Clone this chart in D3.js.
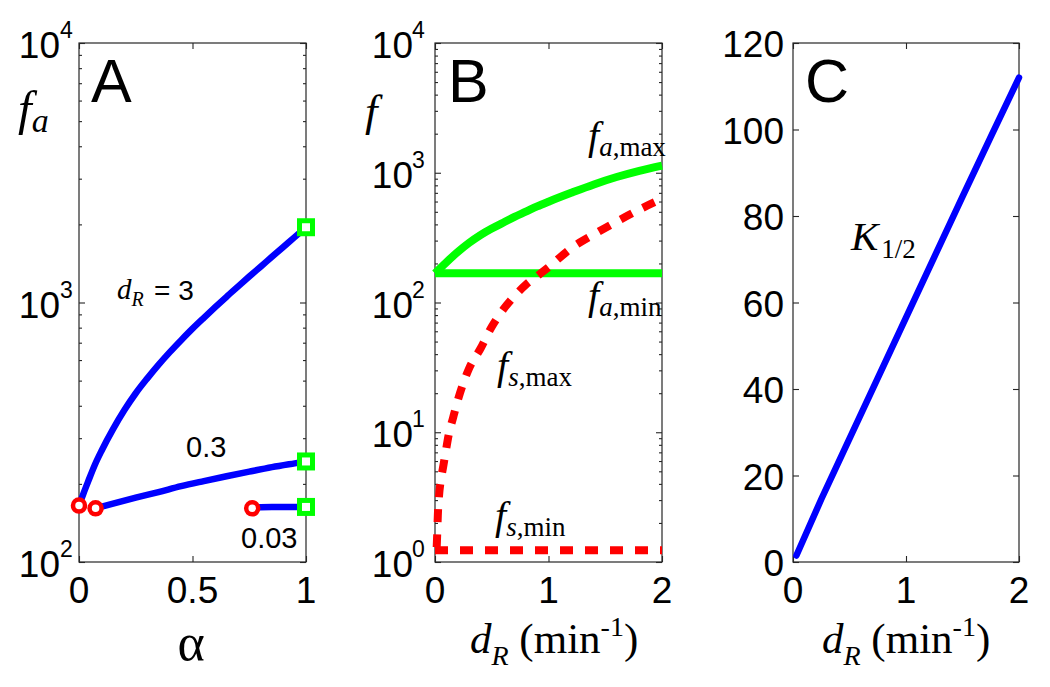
<!DOCTYPE html>
<html><head><meta charset="utf-8">
<script src="https://cdn.jsdelivr.net/npm/d3@7"></script>
<style>body{margin:0;background:#fff}</style>
</head><body><svg id="c" width="1050" height="687" style="background:#fff"></svg>
<script>
// ---------- Panel A data (alpha vs f_a, log axis) ----------
const aAlphaDR3 = [0, 0.02, 0.04, 0.07, 0.1, 0.15, 0.2, 0.25, 0.3, 0.35, 0.4, 0.45, 0.5, 0.55, 0.6, 0.65, 0.7, 0.75, 0.8, 0.85, 0.9, 0.95, 1.0];
const aFaDR3    = [165, 184, 204, 237, 269, 325, 385, 447, 509, 575, 644, 716, 793, 873, 959, 1052, 1151, 1259, 1374, 1500, 1637, 1786, 1950];
const aAlphaDR03 = [0.073, 0.15, 0.25, 0.35, 0.45, 0.55, 0.65, 0.75, 0.85, 0.95, 1.0];
const aFaDR03    = [161, 168, 177, 186, 196, 205, 214, 223, 232, 240, 244];
const aAlphaDR003 = [0.763, 0.8, 0.85, 0.9, 0.95, 1.0];
const aFaDR003    = [161, 162.5, 163, 163, 163, 163];
const aStartAlpha = [0, 0.073, 0.763];      // red circles
const aStartFa    = [165, 161, 161];
const aEndAlpha   = [1, 1, 1];              // green squares
const aEndFa      = [1950, 244, 163];
const aXTicks = [0, 0.5, 1];
const aYExp   = [2, 3, 4];

// ---------- Panel B data (d_R vs f, log axis) ----------
const bDRfaMax = [0, 0.1, 0.2, 0.3, 0.4, 0.5, 0.6, 0.7, 0.8, 0.9, 1.0, 1.2, 1.4, 1.6, 1.8, 2.0];
const bFaMax   = [168, 204, 245, 288, 331, 372, 412, 457, 501, 550, 598, 700, 813, 927, 1035, 1135];
const bDRfaMin = [0, 0.5, 1.0, 1.5, 2.0];
const bFaMin   = [168, 168, 168, 168, 168];
const bDRfsMax = [0.015, 0.02, 0.025, 0.035, 0.05, 0.07, 0.09, 0.12, 0.16, 0.2, 0.25, 0.3, 0.4, 0.5, 0.6, 0.7, 0.8, 0.9, 1.0, 1.2, 1.4, 1.6, 1.8, 2.0];
const bFsMax   = [1.3, 1.7, 2.3, 3.2, 4.2, 5.3, 6.7, 9.5, 13, 17.5, 24, 31, 44, 65, 88, 112, 137, 160, 187, 262, 335, 420, 520, 630];
const bDRfsMin = [0, 0.5, 1.0, 1.5, 2.0];
const bFsMin   = [1.23, 1.23, 1.23, 1.23, 1.23];
const bXTicks = [0, 1, 2];
const bYExp   = [0, 1, 2, 3, 4];

// ---------- Panel C data (d_R vs K_1/2) ----------
const cDR  = [0.03, 0.25, 0.5, 0.75, 1.0, 1.25, 1.5, 1.75, 2.0];
const cK   = [1.5, 14.5, 28.5, 42.5, 56.5, 70.5, 84.5, 98.3, 112];
const cXTicks = [0, 1, 2];
const cYTicks = [0, 20, 40, 60, 80, 100, 120];

const SANS = "'Liberation Sans', Arial, sans-serif";
const SERIF = "'Liberation Serif', 'Times New Roman', serif";
const BLUE = "#0000ff", GREEN = "#00ff00", RED = "#ff0000", AX = "#262626";

const svg = d3.select("#c");
const zip = (a, b) => a.map((v, i) => [v, b[i]]);

// scales
const xA = d3.scaleLinear([0, 1], [79, 306]);
const yA = d3.scaleLog([100, 10000], [562, 43]);
const xB = d3.scaleLinear([0, 2], [435, 662]);
const yB = d3.scaleLog([1, 10000], [562, 43]);
const xC = d3.scaleLinear([0, 2], [793, 1019]);
const yC = d3.scaleLinear([0, 120], [562, 43]);

function box(x, y) {
  svg.append("rect")
    .attr("x", x.range()[0]).attr("y", y.range()[1])
    .attr("width", x.range()[1] - x.range()[0]).attr("height", y.range()[0] - y.range()[1])
    .attr("fill", "none").attr("stroke", AX).attr("stroke-width", 1.2);
}
function addAxis(axis, tx, ty) {
  const g = svg.append("g").attr("transform", `translate(${tx},${ty})`).call(axis);
  g.select(".domain").remove();
  g.selectAll("text").remove();
  g.selectAll("line").attr("stroke", AX).attr("stroke-width", 1.1);
}
function ticks(x, y, xt, ymaj, ymin) {
  const [xl, xr] = x.range(); const [yb, yt] = y.range();
  addAxis(d3.axisBottom(x).tickValues(xt).tickSize(-6), 0, yb);
  addAxis(d3.axisTop(x).tickValues(xt).tickSize(-6), 0, yt);
  addAxis(d3.axisLeft(y).tickValues(ymaj).tickSize(-6), xl, 0);
  addAxis(d3.axisRight(y).tickValues(ymaj).tickSize(-6), xr, 0);
  if (ymin) {
    addAxis(d3.axisLeft(y).tickValues(ymin).tickSize(-3), xl, 0);
    addAxis(d3.axisRight(y).tickValues(ymin).tickSize(-3), xr, 0);
  }
}
function xLabels(x, y, xt) {
  svg.append("g").selectAll("text").data(xt).join("text")
    .attr("x", d => x(d)).attr("y", y.range()[0] + 41)
    .attr("text-anchor", "middle").attr("font-family", SANS).attr("font-size", 37)
    .text(d => String(d));
}
function logLabels(x, y, exps, tenOff, supOff) {
  const xl = x.range()[0];
  const g = svg.append("g").attr("font-family", SANS);
  g.selectAll("text.ten").data(exps).join("text").attr("class", "ten")
    .attr("x", xl - tenOff).attr("y", d => y(Math.pow(10, d)) + 15)
    .attr("text-anchor", "end").attr("font-size", 37).text("10");
  g.selectAll("text.sup").data(exps).join("text").attr("class", "sup")
    .attr("x", xl - supOff).attr("y", d => y(Math.pow(10, d)) - 5)
    .attr("font-size", 23).text(d => String(d));
}
function minorsOf(y) {
  return y.ticks().filter(v => Math.abs(Math.log10(v) - Math.round(Math.log10(v))) > 1e-6);
}

// ================= Panel A =================
box(xA, yA);
ticks(xA, yA, aXTicks, aYExp.map(e => Math.pow(10, e)), minorsOf(yA));
xLabels(xA, yA, aXTicks);
logLabels(xA, yA, aYExp, 19, 19);

const lineA = d3.line().x(d => xA(d[0])).y(d => yA(d[1])).curve(d3.curveMonotoneX);
[[aAlphaDR3, aFaDR3], [aAlphaDR03, aFaDR03], [aAlphaDR003, aFaDR003]].forEach(([a, f]) => {
  svg.append("path").attr("d", lineA(zip(a, f))).attr("fill", "none")
    .attr("stroke", BLUE).attr("stroke-width", 6.5).attr("stroke-linejoin", "round").attr("stroke-linecap", "round");
});
svg.append("g").selectAll("circle").data(zip(aStartAlpha, aStartFa)).join("circle")
  .attr("cx", d => xA(d[0])).attr("cy", d => yA(d[1])).attr("r", 6)
  .attr("fill", "#fff").attr("stroke", RED).attr("stroke-width", 4.5);
svg.append("g").selectAll("rect").data(zip(aEndAlpha, aEndFa)).join("rect")
  .attr("x", d => xA(d[0]) - 6.5).attr("y", d => yA(d[1]) - 6.5).attr("width", 13).attr("height", 13)
  .attr("fill", "#fff").attr("stroke", GREEN).attr("stroke-width", 5);

// panel A texts
svg.append("text").attr("x", 91).attr("y", 102).attr("font-family", SANS).attr("font-size", 61).text("A");
const fa = svg.append("text").attr("x", 18).attr("y", 125).attr("font-family", SERIF).attr("font-style", "italic").attr("font-size", 49);
fa.append("tspan").text("f");
fa.append("tspan").attr("font-size", 34).attr("dy", 7).text("a");
svg.append("text").attr("x", 191).attr("y", 660).attr("text-anchor", "middle").attr("font-family", SERIF).attr("font-size", 52).text("α");
const dr3 = svg.append("text").attr("x", 117).attr("y", 299).attr("font-family", SERIF).attr("font-style", "italic").attr("font-size", 29);
dr3.append("tspan").text("d");
dr3.append("tspan").attr("font-size", 20).attr("dy", 7).text("R");
svg.append("text").attr("x", 154).attr("y", 300).attr("font-family", SANS).attr("font-size", 28).text("= 3");
svg.append("text").attr("x", 186).attr("y", 457).attr("font-family", SANS).attr("font-size", 29).text("0.3");
svg.append("text").attr("x", 241).attr("y", 548).attr("font-family", SANS).attr("font-size", 29).text("0.03");

// ================= Panel B =================
box(xB, yB);
ticks(xB, yB, bXTicks, bYExp.map(e => Math.pow(10, e)), minorsOf(yB));
xLabels(xB, yB, bXTicks);
logLabels(xB, yB, bYExp, 22, 23);

const lineB = d3.line().x(d => xB(d[0])).y(d => yB(d[1])).curve(d3.curveMonotoneX);
svg.append("path").attr("d", lineB(zip(bDRfaMax, bFaMax))).attr("fill", "none")
  .attr("stroke", GREEN).attr("stroke-width", 8).attr("stroke-linejoin", "round");
svg.append("path").attr("d", lineB(zip(bDRfaMin, bFaMin))).attr("fill", "none")
  .attr("stroke", GREEN).attr("stroke-width", 8);
svg.append("path").attr("d", lineB(zip(bDRfsMax, bFsMax))).attr("fill", "none")
  .attr("stroke", RED).attr("stroke-width", 8).attr("stroke-dasharray", "13,12");
svg.append("path").attr("d", lineB(zip(bDRfsMin, bFsMin))).attr("fill", "none")
  .attr("stroke", RED).attr("stroke-width", 8).attr("stroke-dasharray", "13,12");

svg.append("text").attr("x", 448).attr("y", 102).attr("font-family", SANS).attr("font-size", 61).text("B");
svg.append("text").attr("x", 365).attr("y", 126).attr("font-family", SERIF).attr("font-style", "italic").attr("font-size", 45).text("f");

function fLabel(x, y, sub, rest) {
  const t = svg.append("text").attr("x", x).attr("y", y).attr("font-family", SERIF).attr("font-size", 40);
  t.append("tspan").attr("font-style", "italic").text("f");
  t.append("tspan").attr("font-style", "italic").attr("font-size", 27).attr("dy", 7).text(sub);
  t.append("tspan").attr("font-size", 27).text(rest);
}
fLabel(588, 149, "a", ",max");
fLabel(588, 309, "a", ",min");
fLabel(497, 379, "s", ",max");
fLabel(495, 529, "s", ",min");

function drLabel(x, y) {
  const t = svg.append("text").attr("x", x).attr("y", y).attr("font-family", SERIF).attr("font-size", 43);
  t.append("tspan").attr("font-style", "italic").text("d");
  t.append("tspan").attr("font-style", "italic").attr("font-size", 28).attr("dy", 12).text("R");
  t.append("tspan").attr("dy", -12).text(" (min");
  t.append("tspan").attr("font-size", 28).attr("dy", -17).text("-1");
  t.append("tspan").attr("dy", 17).text(")");
}
drLabel(470, 653);

// ================= Panel C =================
box(xC, yC);
ticks(xC, yC, cXTicks, cYTicks, null);
xLabels(xC, yC, cXTicks);
svg.append("g").selectAll("text").data(cYTicks).join("text")
  .attr("x", 793 - 9).attr("y", d => yC(d) + 14).attr("text-anchor", "end")
  .attr("font-family", SANS).attr("font-size", 37).text(d => String(d));
const lineC = d3.line().x(d => xC(d[0])).y(d => yC(d[1]));
svg.append("path").attr("d", lineC(zip(cDR, cK))).attr("fill", "none")
  .attr("stroke", BLUE).attr("stroke-width", 6.5).attr("stroke-linecap", "round").attr("stroke-linejoin", "round");
svg.append("text").attr("x", 805).attr("y", 102).attr("font-family", SANS).attr("font-size", 61).text("C");
const kt = svg.append("text").attr("x", 851).attr("y", 250).attr("font-family", SERIF).attr("font-size", 41);
kt.append("tspan").attr("font-style", "italic").text("K");
kt.append("tspan").attr("font-size", 27).attr("dy", 8).attr("dx", 3).text("1/2");
drLabel(822, 653);
</script>
</body></html>
